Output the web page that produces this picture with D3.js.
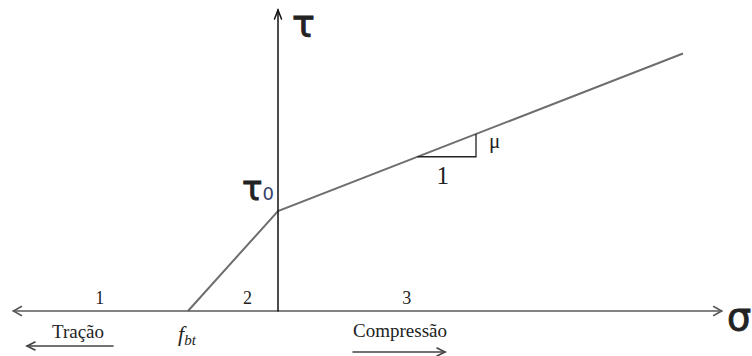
<!DOCTYPE html>
<html>
<head>
<meta charset="utf-8">
<script src="https://cdn.jsdelivr.net/npm/d3@7"></script>
<style>
  html, body { margin: 0; padding: 0; background: #fff; }
  svg { display: block; }
</style>
</head>
<body>
<svg id="chart" width="752" height="356"></svg>
<script>
// Mohr–Coulomb type failure envelope for shear vs. normal stress
const fbt = -1;          // tensile strength (σ where τ = 0)
const tau0 = 1;          // cohesion (τ at σ = 0)
const mu = 0.35;         // friction coefficient (slope)
const sigmaEnd = 4.5;    // last σ drawn

const envelopeSigma = [fbt, 0, sigmaEnd];
const envelopeTau = [0, tau0, tau0 + mu * sigmaEnd];

const regionLabels = ["1", "2", "3"];
const regionSigma = [-1.98, -0.34, 1.43];

const slopeRun = [1.55, 2.2];   // σ span of the slope triangle

const sigmaAxis = [-2.94, 4.93];
const tauAxisTop = 3.01;

const SERIF = "'Liberation Serif', 'Times New Roman', 'DejaVu Serif', serif";
const SANS = "'DejaVu Sans', 'Liberation Sans', sans-serif";

const svg = d3.select("#chart")
  .attr("font-family", SERIF)
  .attr("fill", "#222");

const x = d3.scaleLinear().domain([0, 1]).range([278, 368]);
const y = d3.scaleLinear().domain([0, 1]).range([311, 211]);

// envelope
const envelope = envelopeSigma.map((s, i) => [s, envelopeTau[i]]);
svg.append("path")
  .attr("d", d3.line().x(d => x(d[0])).y(d => y(d[1]))(envelope))
  .attr("fill", "none")
  .attr("stroke", "#6e6e6e")
  .attr("stroke-width", 2);

// horizontal σ axis (double headed)
const ax = g => g.attr("fill", "none").attr("stroke-linecap", "round");
const hAxis = svg.append("g").call(ax).attr("stroke", "#5a5a5a").attr("stroke-width", 1.6);
const xl = x(sigmaAxis[0]), xr = x(sigmaAxis[1]), y0 = y(0);
hAxis.append("line").attr("x1", xl).attr("x2", xr).attr("y1", y0).attr("y2", y0);
hAxis.append("path").attr("d", `M${xl + 8},${y0 - 4.5}L${xl},${y0}L${xl + 8},${y0 + 4.5}`);
hAxis.append("path").attr("d", `M${xr - 8},${y0 - 4.5}L${xr},${y0}L${xr - 8},${y0 + 4.5}`);

// vertical τ axis
const vAxis = svg.append("g").call(ax).attr("stroke", "#111").attr("stroke-width", 1.5);
const xv = x(0), yt = y(tauAxisTop);
vAxis.append("line").attr("x1", xv).attr("x2", xv).attr("y1", y0).attr("y2", yt);
vAxis.append("path").attr("d", `M${xv - 3.5},${yt + 9}L${xv},${yt}L${xv + 3.5},${yt + 9}`);

// slope triangle
const s1 = slopeRun[0], s2 = slopeRun[1];
const tri = svg.append("g").attr("fill", "none").attr("stroke", "#222").attr("stroke-width", 1.3);
tri.append("path").attr("d",
  `M${x(s1)},${y(tau0 + mu * s1)}L${x(s2)},${y(tau0 + mu * s1)}L${x(s2)},${y(tau0 + mu * s2)}`);

svg.append("text").attr("x", (x(s1) + x(s2)) / 2 - 4).attr("y", y(tau0 + mu * s1) + 27)
  .attr("text-anchor", "middle").attr("font-size", 25).text("1");
svg.append("text").attr("x", x(s2) + 13).attr("y", (y(tau0 + mu * s1) + y(tau0 + mu * s2)) / 2 + 3)
  .attr("font-size", 21).text("μ");

// region numbers
regionLabels.forEach((t, i) => {
  svg.append("text").attr("x", x(regionSigma[i])).attr("y", y0 - 7)
    .attr("text-anchor", "middle").attr("font-size", 18).text(t);
});

// axis symbols (slightly heavier strokes)
const heavy = sel => sel.attr("font-family", SANS).attr("stroke", "#222")
  .attr("stroke-width", 0.9).attr("paint-order", "stroke");
svg.append("text").attr("x", xv + 14).attr("y", 37).call(heavy)
  .attr("font-size", 38).text("τ");
svg.append("text").attr("x", 727).attr("y", y0 + 19).call(heavy)
  .attr("font-size", 38).text("σ");

const t0 = svg.append("text").attr("x", xv - 36).attr("y", y(tau0) - 11)
  .attr("font-family", SANS).attr("font-size", 34);
t0.append("tspan").call(heavy).text("τ");
t0.append("tspan").attr("font-size", 18).attr("fill", "#34406a").text("0");

// f_bt label
const fl = svg.append("text").attr("x", x(fbt) - 10).attr("y", y0 + 30)
  .attr("font-size", 22).attr("font-style", "italic");
fl.append("tspan").text("f");
fl.append("tspan").attr("font-size", 15).attr("dy", 4).text("bt");

// direction notes
svg.append("text").attr("x", 78).attr("y", y0 + 27).attr("text-anchor", "middle")
  .attr("font-size", 19).text("Tração");
svg.append("text").attr("x", 400).attr("y", y0 + 26).attr("text-anchor", "middle")
  .attr("font-size", 19).text("Compressão");

const dir = svg.append("g").call(ax).attr("stroke", "#444").attr("stroke-width", 1.6);
dir.append("line").attr("x1", 27).attr("x2", 113).attr("y1", 346).attr("y2", 346);
dir.append("path").attr("d", "M35,342L27,346L35,350");
dir.append("line").attr("x1", 353).attr("x2", 445).attr("y1", 352).attr("y2", 352);
dir.append("path").attr("d", "M437,348L445,352L437,356");
</script>
</body>
</html>
